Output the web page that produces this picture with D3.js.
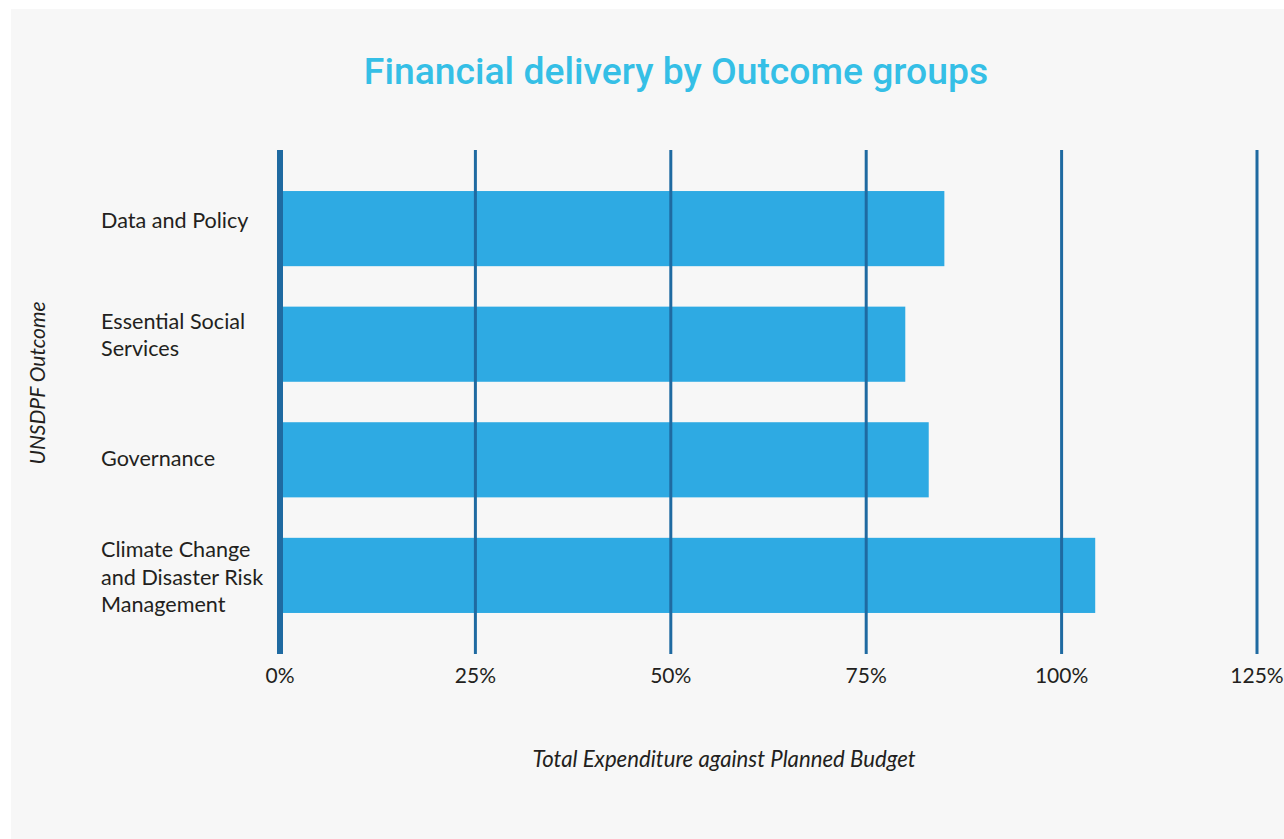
<!DOCTYPE html>
<html>
<head>
<meta charset="utf-8">
<script src="https://cdn.jsdelivr.net/npm/d3@7"></script>
<style>
  html, body { margin: 0; padding: 0; background: #ffffff; }
  svg { display: block; }
</style>
</head>
<body>
<svg id="chart" width="1284" height="839"></svg>
<script>
// ---- data ----
const categories = [
  "Data and Policy",
  "Essential Social Services",
  "Governance",
  "Climate Change and Disaster Risk Management"
];
const labelLines = [
  ["Data and Policy"],
  ["Essential Social", "Services"],
  ["Governance"],
  ["Climate Change", "and Disaster Risk", "Management"]
];
const values = [85, 80, 83, 104.3];
const tickValues = [0, 25, 50, 75, 100, 125];
const tickLabels = ["0%", "25%", "50%", "75%", "100%", "125%"];
const title = "Financial delivery by Outcome groups";
const xTitle = "Total Expenditure against Planned Budget";
const yTitle = "UNSDPF Outcome";

// ---- layout ----
const W = 1284, H = 839;
const plot = { left: 280, right: 1257, top: 150, bottom: 654 };
const labelFont = "Lato, 'Open Sans', sans-serif";
const svg = d3.select("#chart");

svg.append("rect").attr("x", 11).attr("y", 9).attr("width", W - 11).attr("height", H - 9)
  .attr("fill", "#f7f7f7");

const x = d3.scaleLinear().domain([0, 125]).range([plot.left, plot.right]);
const y = d3.scaleBand().domain(categories).range([plot.top, plot.bottom])
  .paddingInner(0.35).paddingOuter(0.355);

// bars
svg.append("g").selectAll("rect").data(categories).join("rect")
  .attr("x", x(0))
  .attr("y", d => y(d))
  .attr("width", (d, i) => x(values[i]) - x(0))
  .attr("height", y.bandwidth())
  .attr("fill", "#2eaae3");

// grid lines (drawn over bars)
svg.append("g").selectAll("line").data(tickValues).join("line")
  .attr("x1", d => x(d)).attr("x2", d => x(d))
  .attr("y1", plot.top).attr("y2", plot.bottom)
  .attr("stroke", "#1f6aa1")
  .attr("stroke-width", d => d === 0 ? 6 : 3);

// x tick labels
svg.append("g").selectAll("text").data(tickValues).join("text")
  .attr("x", d => x(d))
  .attr("y", 683)
  .attr("text-anchor", "middle")
  .attr("font-family", labelFont)
  .attr("font-size", 21)
  .attr("fill", "#231f20")
  .text((d, i) => tickLabels[i]);

// category labels
const nudge = [-8, -9, -1, 2];
const lineH = 27.5;
const lg = svg.append("g");
categories.forEach((c, i) => {
  const lines = labelLines[i];
  const cy = y(c) + y.bandwidth() / 2 + nudge[i];
  const t = lg.append("text")
    .attr("font-family", labelFont)
    .attr("font-size", 21.6)
    .attr("fill", "#231f20");
  lines.forEach((ln, j) => {
    t.append("tspan")
      .attr("x", 101)
      .attr("y", cy + (j - (lines.length - 1) / 2) * lineH + 7.5)
      .text(ln);
  });
});

// title
svg.append("text")
  .attr("x", 676).attr("y", 84)
  .attr("text-anchor", "middle")
  .attr("font-family", "Roboto, sans-serif")
  .attr("font-weight", 500)
  .attr("font-size", 37.3)
  .attr("fill", "#35bfe6")
  .text(title);

// x axis title
svg.append("text")
  .attr("x", 724).attr("y", 767)
  .attr("text-anchor", "middle")
  .attr("font-family", labelFont)
  .attr("font-style", "italic")
  .attr("font-size", 22.2)
  .attr("fill", "#231f20")
  .text(xTitle);

// y axis title
svg.append("text")
  .attr("transform", "translate(45,383) rotate(-90)")
  .attr("text-anchor", "middle")
  .attr("font-family", labelFont)
  .attr("font-style", "italic")
  .attr("font-size", 21)
  .attr("fill", "#231f20")
  .text(yTitle);
</script>
</body>
</html>
